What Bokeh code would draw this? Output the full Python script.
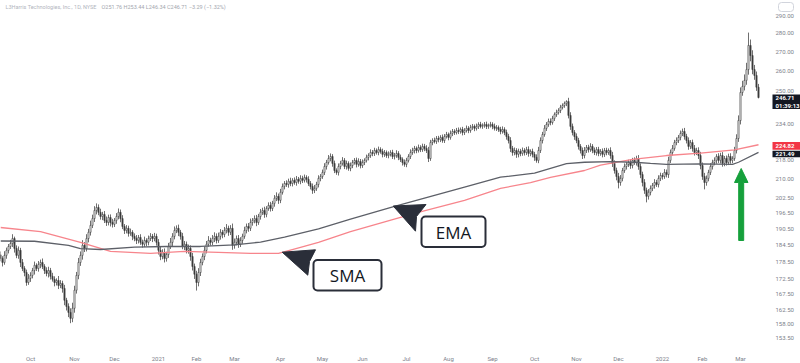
import numpy as np
from bokeh.plotting import figure
from bokeh.models import (ColumnDataSource, FixedTicker, Range1d, Label, BoxAnnotation)
from bokeh.core.properties import value
from bokeh.embed import file_html
from bokeh.resources import INLINE

# ---------------- data ----------------
month_days = [0, 22, 42, 64, 83, 102, 125, 146, 166, 188, 209, 231, 252, 273, 294, 316, 336, 355]
month_labels = ["Oct", "Nov", "Dec", "2021", "Feb", "Mar", "Apr", "May", "Jun", "Jul",
                "Aug", "Sep", "Oct", "Nov", "Dec", "2022", "Feb", "Mar"]
price_ticks = [153.5, 158.0, 162.5, 167.5, 172.5, 178.5, 184.5, 190.5, 196.5, 202.5,
               210.0, 218.0, 234.0, 250.0, 260.0, 270.0, 280.0, 290.0]

first_day = -15
first_open = 181.0
close = [
    179.7,178.3,180.8,182.6,184.0,185.1,186.9,183.3,180.8,182.6,178.3,176.2,174.8,171.4,172.8,173.8,175.5,177.3,176.2,177.6,
    178.3,176.9,175.5,174.5,175.5,173.5,172.5,171.4,172.1,170.4,171.1,169.4,165.5,163.5,161.6,159.7,162.9,168.8,173.8,178.3,
    180.8,184.4,183.3,186.9,189.2,191.8,194.4,197.5,198.7,196.8,195.2,196.0,193.7,192.9,194.8,192.9,192.2,193.7,195.2,196.8,
    194.4,191.4,189.9,190.7,188.8,189.2,187.7,186.9,186.2,187.3,185.5,184.8,186.2,185.5,186.9,187.7,186.9,187.7,185.5,182.6,
    180.4,181.9,179.7,181.1,184.0,185.5,187.7,189.9,190.7,189.2,187.7,184.0,184.8,182.6,183.3,180.4,176.9,174.2,171.4,174.8,
    178.3,180.4,182.6,184.8,186.2,185.5,186.9,187.7,186.2,187.7,189.2,188.4,189.9,190.7,189.2,190.7,184.4,185.5,186.9,184.8,
    186.2,187.7,189.9,191.4,190.7,192.9,193.7,194.4,192.9,195.2,196.8,197.5,196.0,198.3,199.5,198.3,200.3,202.3,203.1,201.5,
    204.7,207.1,208.3,207.9,209.2,208.3,209.6,208.7,210.0,209.2,210.4,209.6,210.8,210.0,208.3,207.1,205.5,206.3,207.9,210.4,
    211.2,212.9,215.4,217.1,218.8,219.7,216.7,213.7,212.9,215.4,216.7,218.0,215.4,216.7,214.6,215.8,217.1,218.0,216.3,217.5,
    215.8,217.1,218.0,219.3,220.1,221.4,221.0,222.3,221.4,222.7,221.9,220.6,221.4,220.1,220.6,221.4,219.7,220.1,221.0,219.3,
    218.4,217.1,216.3,218.0,219.7,221.4,222.3,223.2,222.3,223.6,222.7,224.1,223.2,222.3,218.8,225.8,226.7,226.3,227.6,227.2,
    228.1,226.7,228.5,229.4,228.1,229.9,230.8,230.3,231.2,230.8,231.7,230.3,231.2,232.2,231.2,232.6,233.1,232.2,233.1,234.0,
    233.1,233.5,234.0,233.1,233.5,234.0,233.1,232.2,232.6,231.7,230.8,231.7,230.3,228.5,226.7,223.2,221.4,222.3,220.6,221.9,
    221.0,222.3,221.4,222.7,221.0,221.9,220.6,219.3,218.0,222.3,226.7,229.4,232.2,234.0,235.4,234.9,236.8,238.6,239.6,240.5,
    242.0,242.9,243.9,244.8,238.2,233.1,230.3,228.5,226.7,224.1,222.3,220.1,222.3,223.6,222.7,224.1,222.3,221.4,222.7,221.0,
    221.9,220.6,222.3,221.4,222.3,220.1,216.7,213.7,211.2,208.7,210.4,213.7,215.4,216.3,217.1,215.8,218.0,217.1,218.8,215.4,
    212.0,208.7,205.5,203.1,204.7,206.3,207.5,208.7,207.9,210.4,211.6,211.2,212.9,212.0,218.0,221.4,223.2,225.8,226.7,228.1,
    229.9,230.8,228.5,226.7,224.1,225.8,223.2,221.4,222.3,220.1,215.8,211.2,208.7,210.4,212.9,215.4,217.1,218.0,219.7,218.0,
    220.1,216.7,218.8,217.1,219.7,218.0,218.8,222.3,227.6,235.8,249.2,252.2,255.2,260.7,273.4,268.0,260.7,257.7,251.8,246.71,
]
wick_hi = [
    1.2,0.8,1.5,1.0,0.9,1.3,1.6,0.7,1.1,1.4,0.9,1.2,0.8,1.0,1.5,1.1,0.9,1.3,0.7,1.2,
    1.0,1.4,0.8,1.1,1.3,0.9,1.2,1.0,0.7,1.5,1.1,0.9,1.2,0.8,1.0,1.3,1.8,1.5,1.2,1.6,
    1.4,1.9,1.2,1.6,1.3,1.8,1.5,1.7,1.6,1.2,1.4,1.0,1.3,1.5,1.1,1.2,1.4,0.9,1.3,1.5,
    1.1,1.3,0.9,1.2,1.0,1.4,0.8,1.1,1.3,0.9,1.2,1.0,1.4,0.8,1.1,1.2,0.9,1.3,1.0,1.2,
    1.5,1.1,1.4,1.0,1.3,1.6,1.2,1.5,1.1,1.4,0.9,1.3,1.2,1.0,1.4,1.1,1.3,1.0,1.2,1.5,
    1.3,1.1,1.4,1.2,1.6,1.0,1.3,1.5,1.1,1.4,1.2,0.9,1.3,1.6,1.0,1.2,1.8,1.4,1.1,1.3,
    1.2,1.0,1.4,1.1,1.3,1.5,0.9,1.2,1.4,1.0,1.3,1.1,1.5,0.9,1.2,1.4,1.0,1.3,1.6,1.1,
    1.4,1.2,1.0,1.3,1.1,1.5,0.9,1.2,1.4,1.0,1.3,1.1,1.2,0.9,1.3,1.0,1.2,1.4,1.1,1.3,
    1.0,1.2,1.4,1.1,1.5,1.3,1.0,1.2,0.9,1.3,1.1,1.4,1.0,1.2,0.9,1.3,1.1,1.0,1.2,1.4,
    1.1,1.3,0.9,1.2,1.0,1.4,1.1,1.2,0.9,1.3,1.0,1.2,1.1,0.9,1.3,1.0,1.2,1.1,1.4,1.0,
    1.2,0.9,1.3,1.1,1.0,1.4,1.2,1.1,0.9,1.3,1.0,1.2,1.1,1.4,1.6,1.2,1.0,1.3,1.1,1.2,
    1.0,1.3,1.1,1.2,0.9,1.3,1.1,1.0,1.2,1.4,0.9,1.2,1.1,1.3,1.0,1.2,1.1,0.9,1.3,1.0,
    1.2,1.0,1.1,1.3,0.9,1.2,1.0,1.3,1.1,0.9,1.2,1.4,1.0,1.3,1.2,1.5,1.1,1.3,1.0,1.2,
    1.1,1.3,1.0,1.2,1.4,0.9,1.2,1.1,1.3,1.6,1.4,1.2,1.5,1.1,1.3,1.4,1.2,1.0,1.3,1.1,
    1.2,1.0,0.9,0.6,1.8,1.5,1.3,1.1,1.4,1.2,1.0,1.3,1.5,1.1,1.2,1.4,1.0,1.3,1.1,1.2,
    1.0,1.3,1.1,1.2,0.9,1.4,1.6,1.3,1.2,1.5,1.4,1.1,1.3,1.0,1.2,1.4,1.1,1.3,1.2,1.5,
    1.3,1.2,1.4,1.1,1.3,1.2,1.0,1.4,1.1,1.3,1.2,1.0,1.4,1.2,1.6,1.3,1.5,1.2,1.4,1.1,
    1.3,1.3,1.6,1.2,1.4,1.1,1.3,1.5,1.2,1.4,1.6,1.3,1.5,1.2,1.1,1.4,1.2,1.3,1.0,1.4,
    1.2,1.5,1.1,1.3,1.2,1.4,1.0,1.6,1.9,2.4,2.5,2.8,3.0,3.5,7.0,3.2,2.8,2.4,2.0,1.64,
]
wick_lo = [
    1.0,1.4,0.8,1.2,1.1,0.9,1.3,1.5,1.0,1.2,1.6,0.9,1.3,1.1,0.8,1.2,1.0,1.4,0.9,1.1,
    1.3,0.9,1.2,1.0,1.4,1.1,0.8,1.3,1.0,1.2,0.9,1.4,1.6,1.3,1.5,1.5,1.2,1.4,1.1,1.3,
    1.2,1.5,1.3,1.1,1.4,1.2,1.0,1.3,1.5,1.1,1.2,1.4,1.0,1.3,1.1,1.5,1.2,1.0,1.3,1.1,
    1.4,1.0,1.3,1.1,1.2,0.9,1.4,1.0,1.3,1.1,0.9,1.2,1.0,1.4,1.1,0.9,1.3,1.0,1.2,1.5,
    1.3,1.0,1.4,1.1,1.2,0.9,1.3,1.1,1.0,1.4,1.2,1.0,1.3,1.1,1.2,1.5,1.4,1.6,2.7,1.3,
    1.2,1.0,1.3,1.1,0.9,1.2,1.0,1.3,1.1,0.9,1.2,1.4,1.0,1.1,1.3,1.0,1.6,1.2,1.1,1.3,
    1.0,1.2,0.9,1.1,1.3,1.0,1.2,1.1,1.4,0.9,1.2,1.0,1.3,1.1,0.9,1.2,1.0,1.3,1.1,1.4,
    1.1,0.9,1.2,1.0,1.3,1.1,1.2,0.9,1.3,1.0,1.2,1.1,0.9,1.3,1.0,1.2,1.4,1.1,1.0,1.2,
    1.2,1.0,1.1,1.3,0.9,1.2,1.4,1.1,1.0,1.3,1.2,0.9,1.1,1.3,1.0,1.2,1.1,0.9,1.3,1.0,
    1.2,1.0,1.1,0.9,1.3,1.0,1.2,1.1,0.9,1.2,1.0,1.3,1.1,1.0,1.2,0.9,1.1,1.3,1.0,1.2,
    1.1,1.3,1.0,1.2,0.9,1.1,1.0,1.3,1.2,0.9,1.1,1.0,1.2,1.1,1.5,1.0,1.2,0.9,1.1,1.3,
    1.2,1.0,1.1,0.9,1.3,1.0,1.2,1.1,0.9,1.2,1.0,1.3,1.1,0.9,1.2,1.0,1.1,1.3,1.0,1.2,
    0.9,1.1,1.0,1.2,1.1,0.9,1.3,1.0,1.2,1.1,1.3,1.0,1.2,1.4,1.3,1.6,1.4,1.2,1.5,1.3,
    1.2,1.0,1.3,1.1,1.4,1.2,1.3,1.5,1.0,1.2,1.1,1.3,1.0,1.2,1.1,1.3,1.0,1.2,1.1,1.0,
    1.2,1.0,1.1,1.3,1.4,1.6,1.3,1.5,1.2,1.4,1.3,1.5,1.2,1.1,1.3,1.0,1.2,1.1,1.3,1.2,
    1.0,1.3,1.1,1.2,1.0,1.4,1.5,1.3,1.6,2.4,1.3,1.2,1.0,1.3,1.1,1.4,1.2,1.0,1.3,1.4,
    1.5,1.6,1.4,2.4,1.3,1.2,1.1,1.3,1.0,1.2,1.1,1.3,1.0,1.2,1.4,1.1,1.3,1.0,1.2,1.1,
    1.3,1.2,1.4,1.3,1.5,1.2,1.4,1.3,1.1,1.5,1.6,1.4,2.8,1.3,1.2,1.1,1.3,1.2,1.4,1.1,
    1.3,1.4,1.2,1.3,1.1,1.4,1.2,1.0,1.3,1.5,1.8,1.6,2.0,2.2,2.6,3.0,2.4,2.2,1.8,0.37,
]

sma_days = [-15, 5, 25, 40, 60, 77, 94, 110, 124, 135, 144, 160, 192, 217, 235, 250,
            260, 277, 285, 301, 318, 335, 352, 364]
sma_vals = [191.0, 189.5, 185.5, 182.2, 181.5, 182.2, 181.9, 181.5, 181.5, 183.7, 185.5,
            189.5, 196.4, 201.5, 206.3, 208.7, 210.8, 213.7, 216.0, 218.4, 220.1, 221.1,
            222.6, 224.82]
ema_days = [-15, 2, 19, 25, 35, 52, 68, 85, 102, 115, 127, 144, 160, 182, 217, 235, 252,
            268, 277, 290, 302, 310, 318, 335, 351, 354, 364]
ema_vals = [186.0, 185.9, 184.4, 183.2, 182.9, 183.8, 184.0, 184.0, 184.6, 185.6, 187.4,
            190.5, 194.2, 199.1, 206.8, 210.9, 212.6, 216.6, 217.2, 217.5, 217.2, 216.7,
            216.3, 216.5, 216.3, 217.2, 221.49]

last_close = 246.71
countdown = "01:39:13"
sma_last = 224.82
ema_last = 221.49

header_name = "L3Harris Technologies, Inc., 1D, NYSE"
header_vals = "O251.76  H253.44  L246.34  C246.71  \u22123.29 (\u22121.32%)"

# ---------------- derived columns ----------------
close_a = np.array(close)
days = np.arange(first_day, first_day + len(close_a))
open_a = np.concatenate([[first_open], close_a[:-1]])
body_top = np.maximum(open_a, close_a)
body_bot = np.minimum(open_a, close_a)
high_a = body_top + np.array(wick_hi)
low_a = body_bot - np.array(wick_lo)
fill = np.where(close_a >= open_a, "#ffffff", "#3a3a3a")

src = ColumnDataSource(dict(x=days, top=body_top, bottom=body_bot, h=high_a, l=low_a, fill=fill))

# helpers for annotation placement (page pixel -> data)
def dx(px):
    return (px - 30.0) / 2.0

def py(y):
    return 290.0 * np.exp(-(y - 15.0) / 507.7)

# ---------------- figure ----------------
p = figure(frame_width=800, frame_height=346, y_axis_type="log",
           x_range=Range1d(-15, 385), y_range=Range1d(py(346), py(0)),
           output_backend="svg", toolbar_location=None, y_axis_location=None,
           min_border=0, min_border_left=0, min_border_top=0, min_border_right=0,
           min_border_bottom=0)
p.xgrid.visible = False
p.ygrid.visible = False
p.outline_line_color = None
p.background_fill_color = "white"
p.border_fill_color = "white"

bx = p.xaxis[0]
bx.ticker = FixedTicker(ticks=month_days)
bx.major_label_overrides = {d: lab for d, lab in zip(month_days, month_labels)}
bx.axis_line_color = None
bx.major_tick_line_color = None
bx.minor_tick_line_color = None
bx.major_tick_out = 0
bx.major_tick_in = 0
bx.minor_tick_out = 0
bx.minor_tick_in = 0
bx.major_label_text_font_size = "6px"
bx.major_label_text_color = "#7d818b"
bx.major_label_text_font = "Roboto"
bx.major_label_standoff = 8

# price scale labels (right side, placed through the log y scale)
p.text(x=[dx(775)] * len(price_ticks), y=price_ticks, text=["%.2f" % t for t in price_ticks],
       text_baseline="middle", text_align="left", text_font=value("Roboto"),
       text_font_size=value("6px"), text_color="#7d818b")

# candles
p.segment(x0="x", y0="l", x1="x", y1="h", source=src, line_color="#4a4a4a", line_width=0.8)
p.vbar(x="x", width=0.62, top="top", bottom="bottom", source=src,
       fill_color="fill", line_color="#3a3a3a", line_width=0.6)

# moving averages
p.line(sma_days, sma_vals, line_color="#f7858c", line_width=1.3)
p.line(ema_days, ema_vals, line_color="#5d6068", line_width=1.3)

# price tags on the scale
p.quad(left=[dx(772)] * 4, right=[dx(800)] * 4,
       top=[py(94), py(101.5), py(141.5), py(150.3)],
       bottom=[py(101.5), py(108.5), py(149.3), py(156.8)],
       fill_color=["#131722", "#131722", "#f23645", "#131722"], line_color=None)
p.text(x=[dx(775)] * 4, y=[py(97.8), py(104.8), py(145.4), py(153.6)],
       text=["%.2f" % last_close, countdown, "%.2f" % sma_last, "%.2f" % ema_last],
       text_baseline="middle", text_align="left", text_font=value("Roboto"),
       text_font_size=value("6px"), text_font_style="bold", text_color="white")

# USD tag
p.add_layout(BoxAnnotation(left=dx(778), right=dx(793), top=py(2), bottom=py(11),
                           fill_color="white", fill_alpha=1, line_color="#d1d4dc", line_alpha=1,
                           line_width=1, border_radius=3))
p.text(x=[dx(785.5)], y=[py(6.7)], text=["USD"], text_baseline="middle", text_align="center",
       text_font=value("Roboto"), text_font_size=value("5px"), text_color="#9598a1")

# annotation arrows / boxes
navy = "#2a2e39"
p.patch([dx(281.7), dx(315), dx(309), dx(307.3)], [py(251.7), py(249.3), py(261), py(274.7)],
        fill_color=navy, line_color=navy)
p.patch([dx(392.7), dx(425.5), dx(416), dx(415)], [py(205.5), py(204), py(216), py(230.7)],
        fill_color=navy, line_color=navy)
p.add_layout(BoxAnnotation(left=dx(313), right=dx(381), top=py(259.5), bottom=py(290),
                           fill_color="white", fill_alpha=1, line_color=navy, line_alpha=1,
                           line_width=2, border_radius=4))
p.add_layout(BoxAnnotation(left=dx(421), right=dx(485), top=py(216), bottom=py(246.5),
                           fill_color="white", fill_alpha=1, line_color=navy, line_alpha=1,
                           line_width=2, border_radius=4))
p.add_layout(Label(x=dx(347), y=py(275), text="SMA", text_align="center", text_baseline="middle",
                   text_font="Open Sans", text_font_size="17px", text_color="#131722"))
p.add_layout(Label(x=dx(453), y=py(231.5), text="EMA", text_align="center", text_baseline="middle",
                   text_font="Open Sans", text_font_size="17px", text_color="#131722"))

# green arrow
green = "#16a03c"
p.patch([dx(738.2), dx(743.2), dx(743.2), dx(747.5), dx(740.7), dx(734), dx(738.2)],
        [py(240), py(240), py(182), py(182), py(168), py(182), py(182)],
        fill_color=green, line_color=green)

# header
p.add_layout(Label(x=dx(5), y=py(6), text=header_name, text_baseline="middle",
                   text_font="Roboto", text_font_size="5.5px", text_color="#b2b5be"))
p.add_layout(Label(x=dx(101), y=py(6), text=header_vals, text_baseline="middle",
                   text_font="Roboto", text_font_size="5.5px", text_color="#a3a6ae"))

open("out.html", "w").write(file_html(p, INLINE))
